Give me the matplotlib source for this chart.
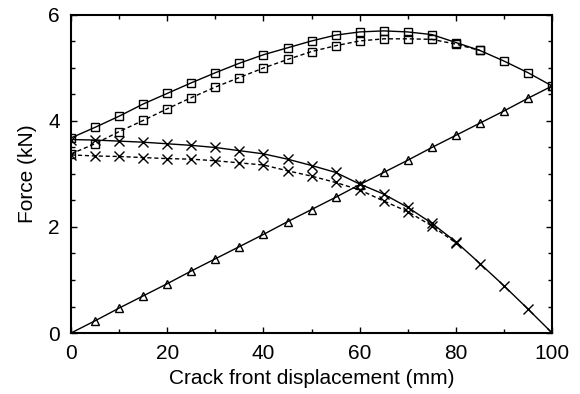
import matplotlib
matplotlib.use("Agg")
import matplotlib.pyplot as plt
from matplotlib.ticker import MultipleLocator

plt.rcParams['font.family'] = ['Liberation Sans', 'DejaVu Sans']

# Crack front displacement (mm)
x_all = [0, 5, 10, 15, 20, 25, 30, 35, 40, 45, 50, 55, 60, 65, 70, 75, 80, 85, 90, 95, 100]

# Square series, solid and dashed (kN)
sq_solid = [3.68, 3.88, 4.09, 4.32, 4.52, 4.72, 4.91, 5.09, 5.25, 5.38, 5.51,
            5.62, 5.68, 5.70, 5.68, 5.63, 5.48, 5.33, 5.13, 4.91, 4.66]
x_sq_dash = [0, 5, 10, 15, 20, 25, 30, 35, 40, 45, 50, 55, 60, 65, 70, 75, 80, 85]
sq_dash = [3.38, 3.57, 3.80, 4.01, 4.23, 4.44, 4.64, 4.82, 5.00, 5.16, 5.31,
           5.42, 5.51, 5.55, 5.55, 5.54, 5.45, 5.33]

# Cross series, solid and dashed (kN)
cr_solid = [3.65, 3.64, 3.62, 3.60, 3.57, 3.54, 3.50, 3.44, 3.38, 3.28, 3.16,
            3.03, 2.81, 2.62, 2.37, 2.07, 1.72, 1.31, 0.89, 0.45, 0.0]
x_cr_dash = [0, 5, 10, 15, 20, 25, 30, 35, 40, 45, 50, 55, 60, 65, 70, 75, 80]
cr_dash = [3.36, 3.34, 3.33, 3.31, 3.29, 3.28, 3.25, 3.21, 3.17, 3.06, 2.96,
           2.84, 2.70, 2.49, 2.29, 2.02, 1.70]

# Triangle series (kN)
tri = [0.0, 0.23, 0.47, 0.70, 0.93, 1.17, 1.40, 1.63, 1.86, 2.10, 2.33,
       2.56, 2.80, 3.03, 3.26, 3.50, 3.73, 3.96, 4.19, 4.43, 4.66]

fig = plt.figure(figsize=(5.8, 3.94), dpi=100)
ax = fig.add_axes([0.1224, 0.1548, 0.8296, 0.8072])

lw = 1.0
ms = 6
mk = dict(color='black', markerfacecolor='none', markeredgewidth=1.0)

ax.plot(x_all, sq_solid, '-', marker='s', lw=lw, ms=ms, **mk)
ax.plot(x_sq_dash, sq_dash, '--', marker='s', lw=lw, ms=ms, dashes=(3, 2), **mk)
ax.plot(x_all, cr_solid, '-', marker='x', lw=lw, ms=ms + 1, **mk)
ax.plot(x_cr_dash, cr_dash, '--', marker='x', lw=lw, ms=ms + 1, dashes=(3, 2), **mk)
ax.plot(x_all, tri, '-', marker='^', lw=lw, ms=ms, markevery=list(range(1, len(x_all))), **mk)

ax.set_xlim(0, 100)
ax.set_ylim(0, 6)
ax.xaxis.set_major_locator(MultipleLocator(20))
ax.xaxis.set_minor_locator(MultipleLocator(10))
ax.yaxis.set_major_locator(MultipleLocator(2))
ax.yaxis.set_minor_locator(MultipleLocator(0.5))
ax.tick_params(which='both', direction='in', top=True, right=True, labelsize=15, width=1.0)
ax.tick_params(which='major', length=4)
ax.tick_params(which='minor', length=3)
ax.tick_params(axis='x', pad=8)
ax.tick_params(axis='y', pad=8)
for s in ax.spines.values():
    s.set_linewidth(1.5)

ax.set_xlabel('Crack front displacement (mm)', fontsize=15, labelpad=4)
ax.set_ylabel('Force (kN)', fontsize=15, labelpad=8)

fig.savefig('out.png', dpi=100)
